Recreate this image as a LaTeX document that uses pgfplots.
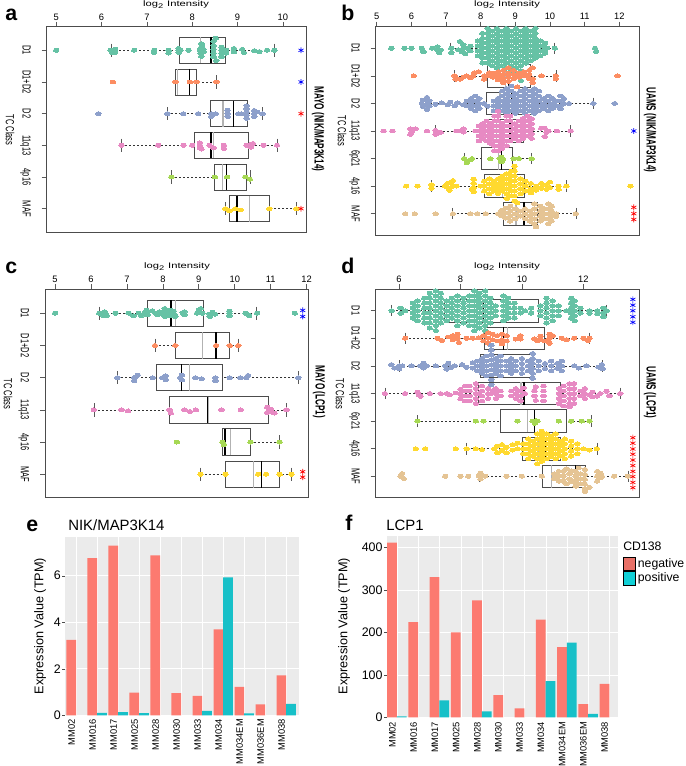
\documentclass[border=0pt]{standalone}
\usepackage{graphicx}
\usepackage{fontspec}
\setmainfont{Liberation Sans}
\usepackage{pgfplots}
\pgfplotsset{compat=1.18}
\usepgfplotslibrary{statistics}

\def\px{0.75pt}
\newcommand\sq[1]{\scalebox{0.64}[1]{\fontsize{8.8}{9}\selectfont #1}}
\newcommand\side[1]{\scalebox{0.61}[1]{\fontsize{10}{11}\selectfont\bfseries #1}}
\newcommand\logi{\scalebox{1.4}[1]{\fontsize{6}{7}\selectfont log\textsubscript{2} Intensity}}

\definecolor{sTeal}{HTML}{66C2A5}
\definecolor{sOrange}{HTML}{FC8D62}
\definecolor{sBlue}{HTML}{8DA0CB}
\definecolor{sPink}{HTML}{E78AC3}
\definecolor{sGreen}{HTML}{A6D854}
\definecolor{sYellow}{HTML}{FFD92F}
\definecolor{sTan}{HTML}{E5C494}
\definecolor{neg}{HTML}{FC7A70}
\definecolor{pos}{HTML}{17C0C8}
\definecolor{panelbg}{HTML}{EBEBEB}

\pgfplotsset{
  place/.style n args={2}{at={(#1*\px,-#2*\px)}, anchor=south west},
  swarmaxis/.style={
    scale only axis, y dir=reverse,
    /pgf/number format/assume math mode=true,
    axis line style={draw=black!70, line width=.75pt},
    tick align=outside, major tick length=3.75pt,
    tick style={draw=black!65, line width=.5pt},
    xtick pos=upper, xticklabel pos=upper, ytick pos=lower, yticklabel pos=lower,
    tick label style={font=\fontsize{7}{8}\selectfont},
    xticklabel style={anchor=south, inner sep=1.1pt},
    yticklabel style={rotate=-90, anchor=north, inner sep=8pt},
    boxplot/draw direction=x,
    boxplot/box extend=.82, boxplot/whisker extend=.42,
    boxplot/every box/.style={draw=black!70, line width=.7pt},
    boxplot/every median/.style={draw=black, line width=1.05pt},
    boxplot/draw/lower whisker/.code={
      \draw[black!65,line width=.5pt] (boxplot whisker cs:\pgfplotsboxplotvalue{lower whisker},0) -- (boxplot whisker cs:\pgfplotsboxplotvalue{lower whisker},1);
      \draw[black!80,line width=.5pt,dash pattern=on 1.5pt off 1.5pt] (boxplot cs:\pgfplotsboxplotvalue{lower whisker}) -- (boxplot cs:\pgfplotsboxplotvalue{lower quartile});},
    boxplot/draw/upper whisker/.code={
      \draw[black!65,line width=.5pt] (boxplot whisker cs:\pgfplotsboxplotvalue{upper whisker},0) -- (boxplot whisker cs:\pgfplotsboxplotvalue{upper whisker},1);
      \draw[black!80,line width=.5pt,dash pattern=on 1.5pt off 1.5pt] (boxplot cs:\pgfplotsboxplotvalue{upper whisker}) -- (boxplot cs:\pgfplotsboxplotvalue{upper quartile});},
    boxplot/draw/average/.code={
      \draw[black!30,line width=.9pt] (boxplot box cs:\pgfplotsboxplotvalue{average},0) -- (boxplot box cs:\pgfplotsboxplotvalue{average},1);},
  },
  sw/.style={only marks, mark=*, mark size=1.6pt, forget plot, color=#1,
    mark options={draw=#1, fill=#1, line width=0pt, xscale=1.3, yscale=.9}},
  st/.style={only marks, mark=asterisk, mark size=2.2pt, forget plot, color=#1,
    mark options={draw=#1, line width=.5pt}},
  baraxis/.style={
    scale only axis, ymin=0,
    /pgf/number format/assume math mode=true,
    axis background/.style={fill=panelbg},
    axis line style={draw=none},
    grid=major, major grid style={draw=white, line width=.5pt},
    minor grid style={draw=white, line width=.25pt},
    tick align=outside, major tick length=1.9pt, minor tick length=0pt,
    xtick pos=lower, ytick pos=lower,
    xtick style={draw=none}, ytick style={draw=black!70},
    xtick={0.25,1.25,2.25,3.25,4.25,5.25,6.25,7.25,8.25,9.25,10.25},
    xticklabels={MM02,MM016,MM017,MM025,MM028,MM030,MM033,MM034,MM034EM,MM036EM,MM038},
    xticklabel style={font=\fontsize{7}{8}\selectfont, xshift=-3.75pt, rotate=90, anchor=east, inner sep=.75pt},
    yticklabel style={font=\fontsize{9.3}{10}\selectfont, inner sep=1.1pt},
    clip=false,
  },
  nb/.style={ybar, bar width=.46, bar shift=0pt, fill=neg, draw=none, forget plot},
  pb/.style={ybar, bar width=.46, bar shift=0pt, fill=pos, draw=none, forget plot},
}
% row: draw position, lower whisker, Q1, median, Q3, upper whisker, mean
\newcommand\bx[7]{\addplot[forget plot, boxplot prepared={draw position=#1, lower whisker=#2, lower quartile=#3, median=#4, upper quartile=#5, upper whisker=#6, average=#7}] coordinates {};}

\begin{document}
\begin{tikzpicture}[x=\px,y=-\px]
\useasboundingbox (0,0) rectangle (685,766);

% ---------- a
\begin{axis}[swarmaxis, place={46.7}{232}, width=259.3*\px, height=205*\px,
  xmin=4.79, xmax=10.51, ymin=.264, ymax=6.736, xtick={5,6,7,8,9,10},
  ytick={1,...,6}, yticklabels={\sq{D1},\sq{D1+D2},\sq{D2},\sq{11q13},\sq{4p16},\sq{MAF}}]
\bx{1}{6.21}{7.72}{8.41}{8.74}{9.81}{8.18}
\bx{2}{7.62}{7.62}{7.94}{8.10}{8.53}{7.67}
\bx{3}{7.44}{8.40}{8.91}{9.22}{9.54}{8.68}
\bx{4}{6.43}{8.06}{8.41}{9.23}{9.87}{8.47}
\bx{5}{7.54}{8.50}{8.76}{9.19}{9.28}{8.66}
\bx{6}{8.73}{8.82}{8.99}{9.71}{10.29}{9.26}
\addplot[sw=sTeal] coordinates {(5,1)(6.2,1)(6.23,1.07)(6.3,.96)(6.3,1.07)(6.72,1)(7.16,1)(7.16,1.07)(7.48,1)(7.48,1.09)(7.7,.94)(7.7,1)(7.7,1.07)(7.74,1)(7.92,1)
(8.2,.79)(8.2,.9)(8.17,1)(8.18,1.09)(8.2,1.19)(8.25,.97)(8.25,1.05)(8.22,.85)(8.52,.62)(8.47,.72)(8.47,.85)(8.47,.97)(8.47,1.09)(8.47,1.21)(8.53,1.32)
(8.65,.9)(8.65,1)(8.65,1.09)(8.65,1.21)(8.75,1)(8.75,1.09)(8.92,.94)(8.92,1.05)(9.1,.97)(9.14,1.07)(9.37,1.01)(9.48,1.04)(9.65,1)(9.81,1)};
\addplot[sw=sOrange] coordinates {(6.25,2)(7.63,2)(7.95,2)(8.1,2)(8.53,2)};
\addplot[sw=sBlue] coordinates {(5.93,3)(7.45,3)(7.8,3)(8.13,3)(8.42,3)(8.42,3.09)(8.52,3)(8.78,2.89)(8.78,3)(8.78,3.09)(9.02,3)(9.08,3)(9.2,2.75)(9.2,2.85)(9.2,2.95)(9.2,3.05)(9.2,3.15)(9.37,2.9)(9.37,3)(9.37,3.09)(9.43,2.95)(9.55,3)};
\addplot[sw=sPink] coordinates {(6.44,4)(7.25,4)(7.81,4)(8,4)(8.17,3.92)(8.17,4)(8.17,4.09)(8.2,4.12)(8.38,4)(8.47,4.08)(8.7,4)(8.7,4.1)(9.2,4)(9.3,3.96)(9.3,4.06)(9.34,3.94)(9.57,4)(9.87,4)};
\addplot[sw=sGreen] coordinates {(7.54,5)(8.5,5)(8.77,5)(9.17,5)(9.27,5.07)};
\addplot[sw=sYellow] coordinates {(8.73,6)(8.82,6.07)(8.95,6)(9.07,6.04)(9.7,6)(10.3,6)};
\addplot[st=blue] coordinates {(10.4,1)(10.4,2)};
\addplot[st=red] coordinates {(10.4,3)(10.4,6)};
\end{axis}

% ---------- b
\begin{axis}[swarmaxis, place={375.7}{235.3}, width=263.3*\px, height=208.6*\px,
  xmin=4.97, xmax=12.57, ymin=.216, ymax=7.784, xtick={5,...,12},
  ytick={1,...,7}, yticklabels={\sq{D1},\sq{D1+D2},\sq{D2},\sq{11q13},\sq{6p21},\sq{4p16},\sq{MAF}}]
\bx{1}{7.13}{8.2}{8.7}{9.5}{10.14}{8.65}
\bx{2}{7.25}{8.19}{8.82}{9.45}{10.17}{8.72}
\bx{3}{6.3}{8.17}{8.89}{9.5}{11.25}{8.56}
\bx{4}{6.68}{8.13}{8.85}{9.23}{10.6}{8.46}
\bx{5}{7.52}{8.02}{8.6}{8.91}{9.47}{8.51}
\bx{6}{6.59}{8.11}{8.8}{9.26}{10.46}{8.62}
\bx{7}{7.19}{8.66}{9.25}{9.65}{10.75}{9.02}
\addplot[sw=sTeal] coordinates {(5.42,1)(5.8,1)(6,1)(6.3,1)(6.35,1.12)(6.6,1)(6.75,.94)(6.75,1.06)(6.8,1.16)(6.85,1.06)(7.15,1)(7.15,1.16)
(7.4,.75)(7.5,.87)(7.5,1)(7.35,1.05)(7.45,1.12)(7.55,1.2)(7.6,1)(7.7,1.1)(7.7,.92)
(7.92,.73)(7.92,.91)(7.92,1.09)(7.92,1.27)(8.05,.46)(8.05,.64)(8.05,.82)(8.05,1)(8.05,1.18)(8.05,1.36)(8.05,1.54)
(8.2,.28)(8.2,.46)(8.2,.64)(8.2,.82)(8.2,1)(8.2,1.18)(8.2,1.36)(8.2,1.54)
(8.33,.37)(8.33,.55)(8.33,.73)(8.33,.91)(8.33,1.09)(8.33,1.27)(8.33,1.45)(8.33,1.63)
(8.47,.28)(8.47,.46)(8.47,.64)(8.47,.82)(8.47,1)(8.47,1.18)(8.47,1.36)(8.47,1.54)(8.47,1.72)
(8.6,.37)(8.6,.55)(8.6,.73)(8.6,.91)(8.6,1.09)(8.6,1.27)(8.6,1.45)(8.6,1.63)
(8.74,.28)(8.74,.46)(8.74,.64)(8.74,.82)(8.74,1)(8.74,1.18)(8.74,1.36)(8.74,1.54)(8.74,1.72)
(8.88,.37)(8.88,.55)(8.88,.73)(8.88,.91)(8.88,1.09)(8.88,1.27)(8.88,1.45)(8.88,1.63)(8.88,1.81)
(9.02,.28)(9.02,.46)(9.02,.64)(9.02,.82)(9.02,1)(9.02,1.18)(9.02,1.36)(9.02,1.54)(9.02,1.72)(9.02,1.9)
(9.16,.37)(9.16,.55)(9.16,.73)(9.16,.91)(9.16,1.09)(9.16,1.27)(9.16,1.45)(9.16,1.63)(9.16,1.81)(9.16,1.99)(9.16,2.17)
(9.3,.28)(9.3,.46)(9.3,.64)(9.3,.82)(9.3,1)(9.3,1.18)(9.3,1.36)(9.3,1.54)
(9.44,.37)(9.44,.55)(9.44,.73)(9.44,.91)(9.44,1.09)(9.44,1.27)(9.44,1.45)
(9.58,.28)(9.58,.46)(9.58,.64)(9.58,.82)(9.58,1)(9.58,1.18)(9.58,1.36)
(9.72,.73)(9.72,.91)(9.72,1.09)(9.72,1.27)(9.86,.82)(9.86,1)(9.86,1.18)(9.92,1)(10.14,1)(11.3,1)(11.33,1.12)};
\addplot[sw=sOrange] coordinates {(6.07,2)(7.25,2)(7.28,2.12)(7.4,2.12)(7.5,2.05)(7.6,2)(7.7,2.08)(7.78,2)(7.82,1.88)(7.95,1.85)
(8.1,2)(8.1,2.12)(8.25,1.88)(8.25,2)(8.35,1.9)(8.35,2.05)(8.5,1.85)(8.5,2)(8.5,2.15)(8.65,1.8)(8.65,1.95)(8.65,2.1)(8.65,2.25)(8.8,1.7)(8.8,1.9)(8.8,2.05)(8.8,2.2)
(8.95,1.8)(8.95,1.95)(8.95,2.1)(9.05,2.4)(9.1,1.9)(9.1,2.05)(9.25,1.85)(9.25,2)(9.4,1.8)(9.4,1.95)(9.4,2.1)(9.5,1.7)(9.5,2.1)(9.5,2.25)(9.76,2)(10.17,2)(10.17,2.1)(11.95,2)};
\addplot[sw=sBlue] coordinates {(6.3,3)(6.33,2.88)(6.35,3.12)(6.45,2.78)(6.47,3)(6.45,3.22)(6.52,2.9)(6.52,3.1)(6.7,3.03)(6.88,2.98)(7.05,3.05)(7.12,2.95)(7.25,3.08)(7.33,2.98)(7.5,3.05)
(7.6,2.91)(7.6,3.09)(7.72,2.82)(7.72,3)(7.72,3.18)(7.84,2.73)(7.84,2.91)(7.84,3.09)(7.84,3.27)(7.96,2.82)(7.96,3)(7.96,3.18)(8.1,3)(8.2,3.1)
(8.38,2.91)(8.38,3.09)(8.38,3.27)(8.5,2.82)(8.5,3)(8.5,3.18)(8.62,2.55)(8.62,2.73)(8.62,2.91)(8.62,3.09)(8.62,3.27)
(8.75,2.46)(8.75,2.64)(8.75,2.82)(8.75,3)(8.75,3.18)(8.75,3.36)(8.88,2.37)(8.88,2.55)(8.88,2.73)(8.88,2.91)(8.88,3.09)(8.88,3.27)
(9,2.64)(9,2.82)(9,3)(9,3.18)(9,3.36)(9.15,2.55)(9.15,2.73)(9.15,2.91)(9.15,3.09)(9.15,3.27)(9.28,2.46)(9.28,2.64)(9.28,2.82)(9.28,3)(9.28,3.18)(9.28,3.36)
(9.42,2.55)(9.42,2.73)(9.42,2.91)(9.42,3.09)(9.42,3.27)(9.55,2.46)(9.55,2.64)(9.55,2.82)(9.55,3)(9.55,3.18)(9.55,3.36)(9.68,2.55)(9.68,2.73)(9.68,2.91)(9.68,3.09)(9.68,3.27)
(9.82,2.82)(9.82,3)(9.82,3.18)(9.95,2.73)(9.95,2.91)(9.95,3.09)(9.95,3.27)(10.08,2.82)(10.08,3)(10.08,3.18)(10.2,2.91)(10.2,3.09)(10.3,2.73)(10.3,2.91)(10.3,3.09)(10.3,3.2)(10.4,2.82)(10.4,3)(10.55,3)(11.25,3)(11.87,3)};
\addplot[sw=sPink] coordinates {(5.2,4)(5.45,4)(5.97,3.92)(5.97,4.12)(6.02,4.02)(6.12,3.92)(6.45,4)(6.7,3.98)(6.7,4.12)(6.85,4.05)(7.3,4)(7.4,4)(7.5,3.92)(7.5,4.04)(7.85,4)
(7.95,3.82)(7.95,4)(7.95,4.18)(7.95,4.36)(8.05,3.73)(8.05,3.91)(8.05,4.09)(8.05,4.27)(8.17,3.64)(8.17,3.82)(8.17,4)(8.17,4.18)(8.17,4.36)
(8.28,3.73)(8.28,3.91)(8.28,4.09)(8.28,4.27)(8.28,4.45)(8.4,3.46)(8.4,3.64)(8.4,3.82)(8.4,4)(8.4,4.18)(8.4,4.36)(8.4,4.54)(8.4,4.72)
(8.5,3.28)(8.5,3.46)(8.5,3.64)(8.5,3.82)(8.5,4)(8.5,4.18)(8.5,4.36)(8.5,4.54)(8.5,4.72)(8.62,3.73)(8.62,3.91)(8.62,4.09)(8.62,4.27)(8.62,4.45)(8.62,4.63)
(8.75,3.46)(8.75,3.64)(8.75,3.82)(8.75,4)(8.75,4.18)(8.75,4.36)(8.75,4.54)(8.85,3.46)(8.85,3.64)(8.85,3.82)(8.85,4)(8.85,4.18)(8.85,4.36)
(8.98,3.73)(8.98,3.91)(8.98,4.09)(8.98,4.27)(9.1,3.64)(9.1,3.82)(9.1,4)(9.1,4.18)(9.1,4.36)(9.22,3.55)(9.22,3.73)(9.22,3.91)(9.22,4.09)(9.22,4.27)
(9.35,3.46)(9.35,3.64)(9.35,3.82)(9.35,4)(9.35,4.18)(9.47,3.55)(9.47,3.73)(9.47,3.91)(9.47,4.09)(9.47,4.27)(9.75,3.9)(9.85,3.9)(9.9,4.05)(9.85,4.2)(9.95,4)(10.2,4)(10.6,4)};
\addplot[sw=sGreen] coordinates {(7.52,5)(7.6,5.08)(7.6,5.15)(7.7,5.05)(7.75,5)(8.28,5)(8.55,5)(8.6,5.05)(8.6,4.95)(8.6,5.12)(8.65,5.03)(8.95,5)(9.1,5)(9.47,5)};
\addplot[sw=sYellow] coordinates {(5.85,6)(6.18,6)(6.58,5.95)(6.58,6.08)(6.97,6)(7.05,6.05)(7.05,5.9)(7.1,6.15)(7.15,5.85)(7.2,6)(7.2,5.8)(7.3,6)
(7.75,6.1)(7.8,5.75)(7.8,5.9)(7.8,6.05)(7.8,6.2)(8,6)(8.1,5.82)(8.1,6)(8.1,6.18)(8.25,5.73)(8.25,5.91)(8.25,6.09)(8.25,6.27)(8.38,5.82)(8.38,6)(8.38,6.18)
(8.5,5.73)(8.5,5.91)(8.5,6.09)(8.5,6.27)(8.62,5.64)(8.62,5.82)(8.62,6)(8.62,6.18)(8.75,5.55)(8.75,5.73)(8.75,5.91)(8.75,6.09)(8.75,6.27)(8.75,6.45)
(8.88,5.46)(8.88,5.64)(8.88,5.82)(8.88,6)(8.88,6.18)(8.88,6.36)(8.98,5.28)(8.98,5.46)(8.98,5.64)(8.98,5.82)(8.98,6)(8.98,6.18)(8.98,6.36)(8.98,6.54)(9.05,6.6)
(9.15,5.73)(9.15,5.91)(9.15,6.09)(9.15,6.27)(9.3,5.82)(9.3,6)(9.3,6.18)(9.45,5.9)(9.45,6.1)(9.45,6.25)(9.6,6)(9.6,6.15)(9.75,5.9)(9.75,6.08)(9.9,5.95)(9.9,6.12)(10,5.85)(10,6.05)(10.25,6)(10.25,6.12)(10.47,6)(12.32,6)};
\addplot[sw=sTan] coordinates {(5.82,7)(6.1,7)(6.7,7)(7.2,7)(7.7,7)(7.9,7)(8.15,7)(8.5,7)(8.6,6.88)(8.6,7.08)(8.72,6.8)(8.72,6.98)(8.72,7.16)
(8.85,6.73)(8.85,6.91)(8.85,7.09)(8.85,7.27)(9,6.82)(9,7)(9,7.18)(9.15,6.91)(9.15,7.09)(9.28,6.82)(9.28,7)(9.28,7.18)(9.42,6.91)(9.42,7.09)(9.42,7.27)
(9.55,6.64)(9.55,6.82)(9.55,7)(9.55,7.18)(9.55,7.36)(9.6,7.48)(9.72,6.73)(9.72,6.91)(9.72,7.09)(9.72,7.27)(9.85,6.82)(9.85,7)(9.85,7.18)(9.95,6.64)(9.95,6.82)(9.95,7)(9.95,7.18)(9.95,7.36)
(10.05,6.73)(10.05,6.91)(10.05,7.09)(10.05,7.27)(10.18,7)(10.18,7.1)(10.75,7)};
\addplot[st=blue] coordinates {(12.42,4)};
\addplot[st=red] coordinates {(12.42,6.77)(12.42,7)(12.42,7.21)};
\end{axis}

% ---------- c
\begin{axis}[swarmaxis, place={45}{497.3}, width=263.3*\px, height=208*\px,
  xmin=4.72, xmax=12.046, ymin=.255, ymax=6.714, xtick={5,...,12},
  ytick={1,...,6}, yticklabels={\sq{D1},\sq{D1+D2},\sq{D2},\sq{11q13},\sq{4p16},\sq{MAF}}]
\bx{1}{6.23}{7.57}{8.23}{9.12}{10.6}{8.34}
\bx{2}{7.78}{8.35}{9.48}{9.86}{10.1}{9.11}
\bx{3}{6.73}{7.83}{8.52}{9.65}{11.77}{8.75}
\bx{4}{6.08}{8.18}{9.25}{10.93}{11.44}{9.28}
\bx{5}{9.65}{9.65}{9.73}{10.44}{11.25}{9.89}
\bx{6}{9.05}{9.74}{10.75}{11.25}{11.58}{10.52}
\addplot[sw=sTeal] coordinates {(5,1)(6.23,1)(6.38,.95)(6.4,1)(6.35,1.08)(6.43,1.08)(6.68,1)(7.05,1)(7.18,1.08)(7.33,1)(7.4,1.08)(7.5,1)(7.55,.95)(7.58,1.05)(7.55,.9)(7.7,.92)(7.8,1)(7.85,1.05)(7.9,.95)
(8.05,.85)(8.05,.95)(8.05,1.05)(8.05,1.1)(8.15,1)(8.2,.9)(8.22,1.08)(8.3,.93)(8.33,1.05)(8.35,1.1)(8.55,.98)(8.6,1.05)(8.6,.95)(8.95,1)(9,.9)(9.05,.85)(9.1,1)(9.3,1.02)(9.3,1.1)(9.38,.97)(9.45,1.03)(9.85,1)(9.85,.93)(9.85,1.08)(10.3,1)(10.38,1.05)(10.4,1.08)(10.62,1)(11.67,1)};
\addplot[sw=sOrange] coordinates {(7.78,2)(8.35,2)(9.48,2)(9.86,2)(10.1,2)};
\addplot[sw=sBlue] coordinates {(6.73,3)(7.2,3.1)(7.25,2.97)(7.3,2.92)(7.2,3)(7.72,3)(7.98,3)(8.08,2.94)(8.08,3.06)(8.48,3)(8.53,2.92)(8.53,3.07)(8.9,3)(9.08,3.03)(9.46,3)(9.46,3.1)(9.86,3)(10.15,3)(10.32,3)(10.37,2.93)(11.77,3)};
\addplot[sw=sPink] coordinates {(6.08,4)(6.85,4)(7.03,4.03)(8.18,4)(8.22,4.1)(8.6,4)(8.75,4.05)(8.92,4)(9.63,4)(10.17,4)(10.9,3.92)(10.95,4)(10.9,4.08)(11,3.97)(11.05,4.08)(11.1,4.1)(11.44,4)};
\addplot[sw=sGreen] coordinates {(8.39,5)(9.66,5)(9.7,5.08)(10.44,5)(11.25,5)};
\addplot[sw=sYellow] coordinates {(9.05,6)(9.74,6)(10.65,6)(10.87,6)(11.25,6)(11.58,6)};
\addplot[st=blue] coordinates {(11.89,.91)(11.89,1.1)};
\addplot[st=red] coordinates {(11.89,5.92)(11.89,6.09)};
\end{axis}

% ---------- d
\begin{axis}[swarmaxis, place={375.7}{497.3}, width=263.3*\px, height=208*\px,
  xmin=5.24, xmax=13.81, ymin=.225, ymax=7.76, xtick={6,8,10,12},
  ytick={1,...,7}, yticklabels={\sq{D1},\sq{D1+D2},\sq{D2},\sq{11q13},\sq{6p21},\sq{4p16},\sq{MAF}}]
\bx{1}{5.76}{7.47}{8.75}{10.55}{12.76}{8.72}
\bx{2}{6.2}{8.77}{9.4}{10.73}{12.2}{9.53}
\bx{3}{6}{8.64}{9.2}{10.38}{12.63}{9.31}
\bx{4}{5.54}{8.58}{10.07}{11.24}{13.2}{9.97}
\bx{5}{6.6}{9.29}{10.41}{11.44}{12.25}{10.18}
\bx{6}{8.2}{10.02}{10.76}{11.24}{12.44}{10.54}
\bx{7}{8.6}{10.67}{11.75}{12.08}{13.47}{10.95}
\addplot[sw=sTeal] coordinates {(5.76,1)(6.05,.9)(6.05,1.1)(6.2,1)(6.45,.73)(6.45,.91)(6.45,1.09)(6.45,1.27)(6.6,.64)(6.6,.82)(6.6,1)(6.6,1.18)(6.6,1.36)
(6.82,.55)(6.82,.73)(6.82,.91)(6.82,1.09)(6.82,1.27)(6.82,1.45)(7,.37)(7,.55)(7,.73)(7,.91)(7,1.09)(7,1.27)(7,1.45)(7,1.63)
(7.2,.28)(7.2,.46)(7.2,.64)(7.2,.82)(7.2,1)(7.2,1.18)(7.2,1.36)(7.2,1.54)(7.2,1.72)(7.36,.37)(7.36,.55)(7.36,.73)(7.36,.91)(7.36,1.09)(7.36,1.27)(7.36,1.45)
(7.55,.64)(7.55,.82)(7.55,1)(7.55,1.18)(7.55,1.36)(7.72,.55)(7.72,.73)(7.72,.91)(7.72,1.09)(7.72,1.27)(7.9,.46)(7.9,.64)(7.9,.82)(7.9,1)(7.9,1.18)(7.9,1.36)(7.9,1.54)
(8.1,.55)(8.1,.73)(8.1,.91)(8.1,1.09)(8.1,1.27)(8.1,1.45)(8.28,.46)(8.28,.64)(8.28,.82)(8.28,1)(8.28,1.18)(8.28,1.36)(8.28,1.54)
(8.45,.28)(8.45,.46)(8.45,.64)(8.45,.82)(8.45,1)(8.45,1.18)(8.45,1.36)(8.45,1.54)(8.45,1.72)(8.62,.37)(8.62,.55)(8.62,.73)(8.62,.91)(8.62,1.09)(8.62,1.27)(8.62,1.45)(8.62,1.63)
(8.8,.28)(8.8,.46)(8.8,.64)(8.8,.82)(8.8,1)(8.8,1.18)(8.8,1.36)(8.8,1.54)(8.8,1.72)(8.98,.55)(8.98,.73)(8.98,.91)(8.98,1.09)(8.98,1.27)(8.98,1.45)(9.15,.82)(9.15,1)(9.15,1.18)
(9.4,.46)(9.4,.64)(9.4,.82)(9.4,1)(9.4,1.18)(9.4,1.36)(9.55,.55)(9.55,.73)(9.55,.91)(9.55,1.09)(9.55,1.27)(9.75,.73)(9.75,.91)(9.75,1.09)(9.75,1.27)(9.95,.91)(9.95,1.09)(10.1,1)
(10.3,.91)(10.3,1.09)(10.6,.82)(10.6,1)(10.6,1.18)(10.8,.55)(10.8,.73)(10.8,.91)(10.8,1.09)(10.8,1.27)(10.8,1.45)(11,.64)(11,.82)(11,1)(11,1.18)(11,1.36)
(11.2,.82)(11.2,1)(11.2,1.18)(11.45,1)(11.6,.55)(11.6,.73)(11.6,.91)(11.6,1.09)(11.6,1.27)(11.72,.64)(11.72,.82)(11.72,1)(11.72,1.18)(11.72,1.36)
(11.9,.91)(11.9,1.09)(12.2,1)(12.2,1.1)(12.45,1)(12.45,1.12)(12.65,.9)(12.65,1.08)(12.65,1.22)(12.76,1)};
\addplot[sw=sOrange] coordinates {(6.2,2)(7.25,2)(7.4,2.08)(7.6,1.95)(7.75,1.9)(7.75,2.05)(7.9,1.85)(7.9,2)(7.95,2.15)(8.2,2)(8.4,2)(8.6,1.98)(8.75,1.9)(8.75,2.1)(8.9,1.8)(8.9,2)(8.9,2.18)
(9.05,1.85)(9.05,2.05)(9.2,1.9)(9.2,2.1)(9.35,1.85)(9.35,2.05)(9.35,2.2)(9.5,1.9)(9.5,2.1)(9.8,2.03)(9.95,1.9)(9.95,2.03)(10.4,2.02)(10.5,2.1)(10.6,1.92)(10.6,2.05)(10.75,2.1)(10.9,1.85)(10.9,2)(10.9,2.18)(11,1.9)(11.3,2)(11.45,2.05)(11.7,2)(12,2)(12.2,2)(12.15,2.08)};
\addplot[sw=sBlue] coordinates {(5.75,2.95)(5.85,3.08)(6,3)(6,3.1)(6.1,3)(6.4,3)(6.7,3)(6.8,3.08)(6.8,2.9)(6.9,3)(7.2,3)(7.5,3)(7.55,3.12)(7.6,2.9)(7.7,3.05)(7.8,3)(8.05,2.95)(8.2,3.05)(8.4,2.88)(8.4,3.08)
(8.55,2.82)(8.55,3)(8.55,3.18)(8.7,2.73)(8.7,2.91)(8.7,3.09)(8.7,3.27)(8.85,2.64)(8.85,2.82)(8.85,3)(8.85,3.18)(8.85,3.36)(9,2.25)(9,2.43)(9,2.61)(9,2.79)(9,2.97)(9,3.15)(9,3.33)(9,3.51)(9,3.69)
(9.15,2.73)(9.15,2.91)(9.15,3.09)(9.15,3.27)(9.3,2.64)(9.3,2.82)(9.3,3)(9.3,3.18)(9.3,3.36)(9.5,2.82)(9.5,3)(9.5,3.18)(9.65,2.73)(9.65,2.91)(9.65,3.09)(9.65,3.27)(9.8,2.82)(9.8,3)(9.8,3.18)
(10,2.73)(10,2.91)(10,3.09)(10,3.27)(10.2,2.82)(10.2,3)(10.2,3.18)(10.35,2.55)(10.35,2.73)(10.35,2.91)(10.35,3.09)(10.35,3.27)(10.35,3.45)(10.55,2.82)(10.55,3)(10.55,3.18)
(10.75,2.91)(10.75,3.09)(10.95,2.82)(10.95,3)(10.95,3.18)(11.15,2.91)(11.15,3.09)(11.3,2.82)(11.3,3)(11.3,3.18)(11.7,3)(11.85,3.08)(12.1,3)(12.5,3.05)(12.6,2.95)(12.63,3.1)};
\addplot[sw=sPink] coordinates {(5.54,4)(6.2,4)(6.6,3.95)(6.65,4.05)(6.7,4.1)(7,4)(7.35,4)(7.55,4)(7.65,4.05)(7.85,3.98)(8,3.85)(8,4.03)(8,4.2)(8.15,3.73)(8.15,3.91)(8.15,4.09)(8.15,4.27)(8.3,3.73)(8.3,3.91)(8.3,4.09)(8.3,4.27)
(8.5,3.64)(8.5,3.82)(8.5,4)(8.5,4.18)(8.5,4.36)(8.6,4)(8.7,3.73)(8.7,3.91)(8.7,4.09)(8.7,4.27)(8.9,3.82)(8.9,4)(8.9,4.18)(9,4)(9.05,3.9)(9.15,3.82)(9.15,4)(9.15,4.18)(9.3,3.91)(9.3,4.09)(9.65,3.91)(9.65,4.09)(9.8,3.82)(9.8,4)(9.8,4.18)(9.95,3.91)(9.95,4.09)(9.95,4.27)(10.05,3.8)(10.1,4)
(10.4,3.91)(10.4,4.09)(10.45,3.75)(10.45,4.25)(10.7,3.73)(10.7,3.91)(10.7,4.09)(10.7,4.27)(11.2,3.82)(11.2,4)(11.2,4.18)(11.2,4.36)(11.35,3.73)(11.35,3.91)(11.35,4.09)(11.35,4.27)(11.35,4.45)(11.55,3.64)(11.55,3.82)(11.55,4)(11.55,4.18)(11.55,4.36)(11.55,4.48)
(11.7,3.64)(11.7,3.82)(11.7,4)(11.7,4.18)(11.7,4.36)(11.9,3.91)(11.9,4.09)(12,3.95)(12.05,3.82)(12.05,4)(12.05,4.18)(12.2,4.05)(12.3,3.95)(12.3,4.12)(12.45,4.1)(12.55,4)(12.75,3.92)(12.85,4.08)(13.2,4)};
\addplot[sw=sGreen] coordinates {(6.6,5)(8.5,5)(8.75,5)(9.85,5)(10.35,5)(10.45,4.98)(10.42,5.08)(10.5,5)(11.2,5)(11.6,5)(11.95,5)(12.2,5)};
\addplot[sw=sYellow] coordinates {(6.55,6)(6.85,6)(7.85,6)(8.2,6)(8.5,6)(8.7,6.03)(9.1,6)(9.2,5.9)(9.2,6.15)(9.35,5.85)(9.35,6.05)(9.5,5.95)(9.5,6.15)(9.7,5.85)(9.7,6.05)(9.85,5.8)(9.85,6)(10.05,5.82)(10.05,6)(10.05,6.18)
(10.2,5.64)(10.2,5.82)(10.2,6)(10.2,6.18)(10.2,6.36)(10.35,5.73)(10.35,5.91)(10.35,6.09)(10.35,6.27)(10.5,5.46)(10.5,5.64)(10.5,5.82)(10.5,6)(10.5,6.18)(10.5,6.36)(10.5,6.54)
(10.65,5.37)(10.65,5.55)(10.65,5.73)(10.65,5.91)(10.65,6.09)(10.65,6.27)(10.65,6.45)(10.8,5.46)(10.8,5.64)(10.8,5.82)(10.8,6)(10.8,6.18)(10.8,6.36)
(10.95,5.55)(10.95,5.73)(10.95,5.91)(10.95,6.09)(10.95,6.27)(11.1,5.46)(11.1,5.64)(11.1,5.82)(11.1,6)(11.1,6.18)(11.1,6.36)(11.25,5.73)(11.25,5.91)(11.25,6.09)(11.25,6.27)
(11.4,5.64)(11.4,5.82)(11.4,6)(11.4,6.18)(11.4,6.36)(11.6,5.73)(11.6,5.91)(11.6,6.09)(11.6,6.27)(11.8,5.82)(11.8,6)(11.8,6.18)(12,6)(12.2,6.05)(12.44,6)};
\addplot[sw=sTan] coordinates {(6.05,7)(6.1,6.9)(6.15,7.08)(7.5,7)(8,7)(8.25,7)(8.6,7)(8.65,6.88)(8.65,7.1)(8.7,6.98)(8.8,7)(9.5,7)(10,7)(10.65,7)
(11.05,6.91)(11.05,7.09)(11.1,7)(11.2,6.82)(11.2,7)(11.2,7.18)(11.35,6.82)(11.35,7)(11.35,7.18)(11.45,6.73)(11.45,7.27)(11.55,6.91)(11.55,7.09)(11.6,6.8)(11.6,7.2)(11.75,6.82)(11.75,7)(11.75,7.18)(11.75,7.36)(11.85,6.7)
(11.9,6.91)(11.9,7.09)(11.9,7.27)(12.05,6.75)(12.05,6.93)(12.05,7.11)(12.05,7.29)(12.05,7.47)(12.05,7.55)(12.2,7.4)(12.45,6.82)(12.45,7)(12.45,7.18)(12.55,6.88)(12.55,7.06)(12.6,7)(13,7)(13.45,7)};
\addplot[st=blue] coordinates {(13.61,.59)(13.61,.8)(13.61,1)(13.61,1.22)(13.61,1.42)};
\addplot[st=red] coordinates {(13.61,5.6)(13.61,5.8)(13.61,6.01)(13.61,6.2)(13.61,6.41)(13.61,6.61)(13.61,6.82)(13.61,7.01)(13.61,7.22)(13.61,7.41)};
\end{axis}

% ---------- e
\begin{axis}[baraxis, place={65}{715.3}, width=234*\px, height=178*\px,
  xmin=-.3, xmax=10.84, ymax=7.65, ytick={0,2,4,6}, minor ytick={1,3,5,7}]
\addplot[nb] coordinates {(0,3.24)(1,6.76)(2,7.29)(3,.97)(4,6.87)(5,.95)(6,.83)(7,3.69)(8,1.22)(9,.47)(10,1.72)};
\addplot[pb] coordinates {(1.46,.1)(2.46,.14)(3.46,.09)(6.46,.19)(7.46,5.93)(8.46,.08)(10.46,.49)};
\end{axis}

% ---------- f
\begin{axis}[baraxis, place={386.7}{718}, width=231.3*\px, height=182*\px,
  xmin=-.25, xmax=10.64, ymin=-1.6, ymax=426.7, ytick={0,100,200,300,400}, minor ytick={50,150,250,350},
  legend style={at={(axis description cs:1.019,.892)}, anchor=north west, draw=none, fill=none,
    font=\fontsize{9.2}{10}\selectfont, row sep=-1.5pt, inner xsep=0pt, inner ysep=0pt},
  legend cell align=left]
\addplot[nb] coordinates {(0,411)(1,224)(2,330)(3,200)(4,275)(5,52)(6,21)(7,230)(8,165)(9,31)(10,79)};
\addplot[pb] coordinates {(.46,2)(2.46,40)(4.46,14)(7.46,85)(8.46,176)(9.46,8)};
\addlegendimage{legend image code/.code={\fill[fill=neg!92!black] (-3pt,-4.9pt) rectangle (6pt,4.9pt);}}\addlegendentry{negative}
\addlegendimage{legend image code/.code={\fill[fill=pos!75!cyan] (-3pt,-4.9pt) rectangle (6pt,4.9pt);}}\addlegendentry{positive}
\end{axis}

% ---------- panel text, positions in reference pixels
\newcommand\letter[3]{\node[anchor=base west,inner sep=0pt,font=\fontsize{16}{18}\selectfont\bfseries] at (#1,#2) {#3};}
\letter{5}{21}{a}\letter{341}{21}{b}\letter{5}{273}{c}\letter{341}{273}{d}\letter{26}{531}{e}\letter{345}{530}{f}
\node at (176,4.5) {\logi};\node at (507,4.5) {\logi};\node at (177,266.5) {\logi};\node at (507,266.5) {\logi};
\node[rotate=-90] at (10,130) {\sq{TC Class}};\node[rotate=-90] at (342,131) {\sq{TC Class}};
\node[rotate=-90] at (8,394) {\sq{TC Class}};\node[rotate=-90] at (340,394) {\sq{TC Class}};
\node[rotate=-90] at (318,129) {\side{MAYO (NIK/MAP3K14)}};
\node[rotate=-90] at (650,130) {\side{UAMS (NIK/MAP3K14)}};
\node[rotate=-90] at (319,392) {\side{MAYO (LCP1)}};
\node[rotate=-90] at (650,392.5) {\side{UAMS (LCP1)}};
\node[anchor=base west,inner sep=0pt,font=\fontsize{11.2}{13}\selectfont] at (68,530.7) {NIK/MAP3K14};
\node[anchor=base west,inner sep=0pt,font=\fontsize{11.2}{13}\selectfont] at (386,530) {LCP1};
\node[anchor=base west,inner sep=0pt,font=\fontsize{9.2}{10}\selectfont] at (623,550) {CD138};
\node[rotate=90,font=\fontsize{9.5}{11}\selectfont] at (40,626) {Expression Value (TPM)};
\node[rotate=90,font=\fontsize{9.5}{11}\selectfont] at (344,626) {Expression Value (TPM)};
\end{tikzpicture}
\end{document}
